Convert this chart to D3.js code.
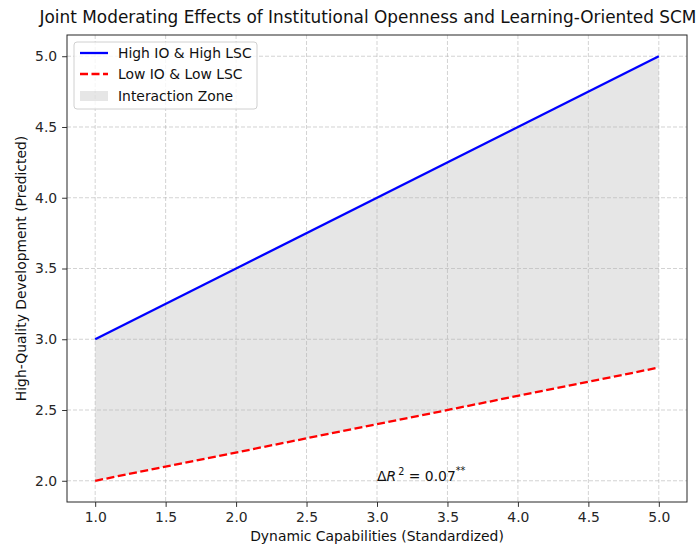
<!DOCTYPE html>
<html><head><meta charset="utf-8">
<script src="https://cdn.jsdelivr.net/npm/d3@7"></script>
<style>body{margin:0;background:#fff}svg{font-family:"DejaVu Sans",sans-serif}</style>
</head><body>
<svg id="c" width="700" height="545"></svg>
<script>
const xValues = [1.0, 5.0];
const highSeries = [3.0, 5.0];
const lowSeries = [2.0, 2.8];
const xTicks = [1.0, 1.5, 2.0, 2.5, 3.0, 3.5, 4.0, 4.5, 5.0];
const yTicks = [2.0, 2.5, 3.0, 3.5, 4.0, 4.5, 5.0];
const seriesNames = ["High IO & High LSC", "Low IO & Low LSC", "Interaction Zone"];
const annotation = {x: 3.0, y: 2.0};

const svg = d3.select("#c");
const L = 67, R = 687, T = 35, B = 502;
const x = d3.scaleLinear().domain([0.8, 5.2]).range([L, R]);
const y = d3.scaleLinear().domain([1.85, 5.15]).range([B, T]);
const pts = xValues.map((v, i) => ({x: v, hi: highSeries[i], lo: lowSeries[i]}));

// fill
svg.append("path").datum(pts)
  .attr("d", d3.area().x(d => x(d.x)).y0(d => y(d.lo)).y1(d => y(d.hi)))
  .attr("fill", "#808080").attr("fill-opacity", 0.2);

// grid
const g = svg.append("g");
const gridStyle = s => s.attr("stroke", "#b0b0b0").attr("stroke-opacity", 0.7).attr("stroke-width", 0.8).attr("stroke-dasharray", "4,2");
xTicks.forEach(t => gridStyle(g.append("line").attr("x1", x(t)).attr("x2", x(t)).attr("y1", T).attr("y2", B)));
yTicks.forEach(t => gridStyle(g.append("line").attr("x1", L).attr("x2", R).attr("y1", y(t)).attr("y2", y(t))));

// lines
svg.append("path").datum(pts).attr("d", d3.line().x(d => x(d.x)).y(d => y(d.hi)))
  .attr("stroke", "#0000ff").attr("stroke-width", 2.3).attr("fill", "none");
svg.append("path").datum(pts).attr("d", d3.line().x(d => x(d.x)).y(d => y(d.lo)))
  .attr("stroke", "#ff0000").attr("stroke-width", 2.3).attr("fill", "none").attr("stroke-dasharray", "8,3.5");

// axes
const xa = svg.append("g").attr("transform", `translate(0,${B})`)
  .call(d3.axisBottom(x).tickValues(xTicks).tickFormat(d3.format(".1f")).tickSizeOuter(0).tickSize(4.9).tickPadding(4.9));
const ya = svg.append("g").attr("transform", `translate(${L},0)`)
  .call(d3.axisLeft(y).tickValues(yTicks).tickFormat(d3.format(".1f")).tickSizeOuter(0).tickSize(4.9).tickPadding(4.9));
[xa, ya].forEach(a => {
  a.select(".domain").remove();
  a.selectAll("text").attr("font-size", "13.9px").attr("fill", "#262626").attr("font-family", "DejaVu Sans");
  a.selectAll("line").attr("stroke", "#333").attr("stroke-width", 1);
});
svg.append("rect").attr("x", L).attr("y", T).attr("width", R - L).attr("height", B - T)
  .attr("fill", "none").attr("stroke", "#262626").attr("stroke-width", 1);

// labels
svg.append("text").attr("x", 368).attr("y", 23).attr("text-anchor", "middle")
  .attr("font-size", "16.9px").attr("fill", "#111").text("Joint Moderating Effects of Institutional Openness and Learning-Oriented SCM");
svg.append("text").attr("x", (L + R) / 2).attr("y", 541).attr("text-anchor", "middle")
  .attr("font-size", "13.9px").attr("fill", "#111").text("Dynamic Capabilities (Standardized)");
svg.append("text").attr("transform", `translate(26,${(T + B) / 2}) rotate(-90)`).attr("text-anchor", "middle")
  .attr("font-size", "13.9px").attr("fill", "#111").text("High-Quality Development (Predicted)");

// annotation
const an = svg.append("text").attr("x", x(annotation.x)).attr("y", y(annotation.y)).attr("font-size", "13.9px").attr("fill", "#111");
an.append("tspan").text("Δ");
an.append("tspan").attr("font-style", "italic").text("R");
an.append("tspan").attr("font-size", "9.7px").attr("dx", 2).attr("dy", -6).text("2");
an.append("tspan").attr("dy", 6).text(" = 0.07");
an.append("tspan").attr("font-size", "9.7px").attr("dy", -7).text("**");

// legend
const lg = svg.append("g");
lg.append("rect").attr("x", 74).attr("y", 42).attr("width", 183).attr("height", 67).attr("rx", 3)
  .attr("fill", "#fff").attr("fill-opacity", 0.8).attr("stroke", "#d0d0d0");
const ly = [53, 74, 96];
lg.append("line").attr("x1", 80).attr("x2", 108).attr("y1", ly[0]).attr("y2", ly[0]).attr("stroke", "#0000ff").attr("stroke-width", 2.3);
lg.append("line").attr("x1", 80).attr("x2", 108).attr("y1", ly[1]).attr("y2", ly[1]).attr("stroke", "#ff0000").attr("stroke-width", 2.3).attr("stroke-dasharray", "8,3.5");
lg.append("rect").attr("x", 80).attr("y", ly[2] - 5).attr("width", 28).attr("height", 10).attr("fill", "#808080").attr("fill-opacity", 0.2);
seriesNames.forEach((n, i) => lg.append("text").attr("x", 118).attr("y", ly[i] + 5).attr("font-size", "13.9px").attr("fill", "#111").text(n));
</script>
</body></html>
